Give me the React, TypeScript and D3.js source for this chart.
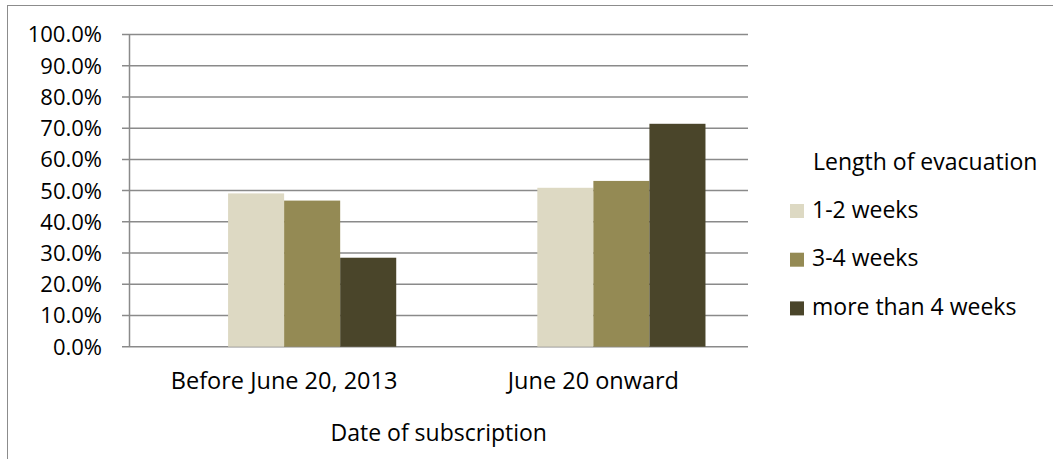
import React from "react";
import * as d3 from "d3";

const categories = ["Before June 20, 2013", "June 20 onward"];
const seriesNames = ["1-2 weeks", "3-4 weeks", "more than 4 weeks"];
const series12 = [0.491, 0.509];
const series34 = [0.468, 0.531];
const series4plus = [0.285, 0.714];
const seriesValues = [series12, series34, series4plus];
const colors = ["#DDD9C3", "#948A54", "#4A452A"];
const yTicks = [0, 0.1, 0.2, 0.3, 0.4, 0.5, 0.6, 0.7, 0.8, 0.9, 1.0];
const xTitle = "Date of subscription";
const legendTitle = "Length of evacuation";

const W = 1053;
const H = 459;
const FONT = "'Open Sans', 'Liberation Sans', sans-serif";

export default function App() {
  const left = 129.5;
  const right = 748;
  const top = 34.5;
  const bottom = 346.7;

  const y = d3.scaleLinear().domain([0, 1]).range([bottom, top]);
  const x0 = d3
    .scaleBand<string>()
    .domain(categories)
    .range([left, right])
    .paddingInner(0.275)
    .paddingOuter(0.1375);
  // Excel layout has an empty first slot in each cluster
  const slots = ["", ...seriesNames];
  const x1 = d3.scaleBand<string>().domain(slots).range([0, x0.bandwidth()]);
  const fmt = d3.format(".1%");

  const rows = categories.map((c, ci) => ({ c, vals: seriesValues.map((s) => s[ci]) }));

  return (
    <svg
      width={W}
      height={H}
      style={{ position: "absolute", left: 0, top: 0, background: "#fff" }}
      fontFamily={FONT}
    >
      <rect x={7.5} y={5.5} width={1200} height={600} fill="#fff" stroke="#8c8c8c" strokeWidth={1} />
      {yTicks.map((t) => (
        <g key={t}>
          <line x1={122} x2={right} y1={y(t)} y2={y(t)} stroke="#8a8a8a" strokeWidth={1.5} />
          <text x={102} y={y(t)} dy="0.36em" textAnchor="end" fontSize={22} fill="#000">
            {fmt(t)}
          </text>
        </g>
      ))}
      <line x1={left} x2={left} y1={top} y2={bottom} stroke="#8a8a8a" strokeWidth={1.5} />
      {rows.map((r) => (
        <g key={r.c} transform={`translate(${x0(r.c)},0)`}>
          {r.vals.map((v, i) => (
            <rect
              key={i}
              x={x1(seriesNames[i])}
              y={y(v)}
              width={x1.bandwidth()}
              height={y(0) - y(v)}
              fill={colors[i]}
            />
          ))}
        </g>
      ))}
      {categories.map((c) => (
        <text
          key={c}
          x={(x0(c) as number) + x0.bandwidth() / 2}
          y={389}
          textAnchor="middle"
          fontSize={23.5}
          fill="#000"
        >
          {c}
        </text>
      ))}
      <text x={(left + right) / 2} y={441} textAnchor="middle" fontSize={23} fill="#000">
        {xTitle}
      </text>
      <text x={813} y={169.5} fontSize={23} fill="#000">
        {legendTitle}
      </text>
      {seriesNames.map((s, i) => (
        <g key={s}>
          <rect x={790} y={204 + i * 48.7} width={14} height={14} fill={colors[i]} />
          <text x={812} y={217.5 + i * 48.7} fontSize={23} fill="#000">
            {s}
          </text>
        </g>
      ))}
    </svg>
  );
}
